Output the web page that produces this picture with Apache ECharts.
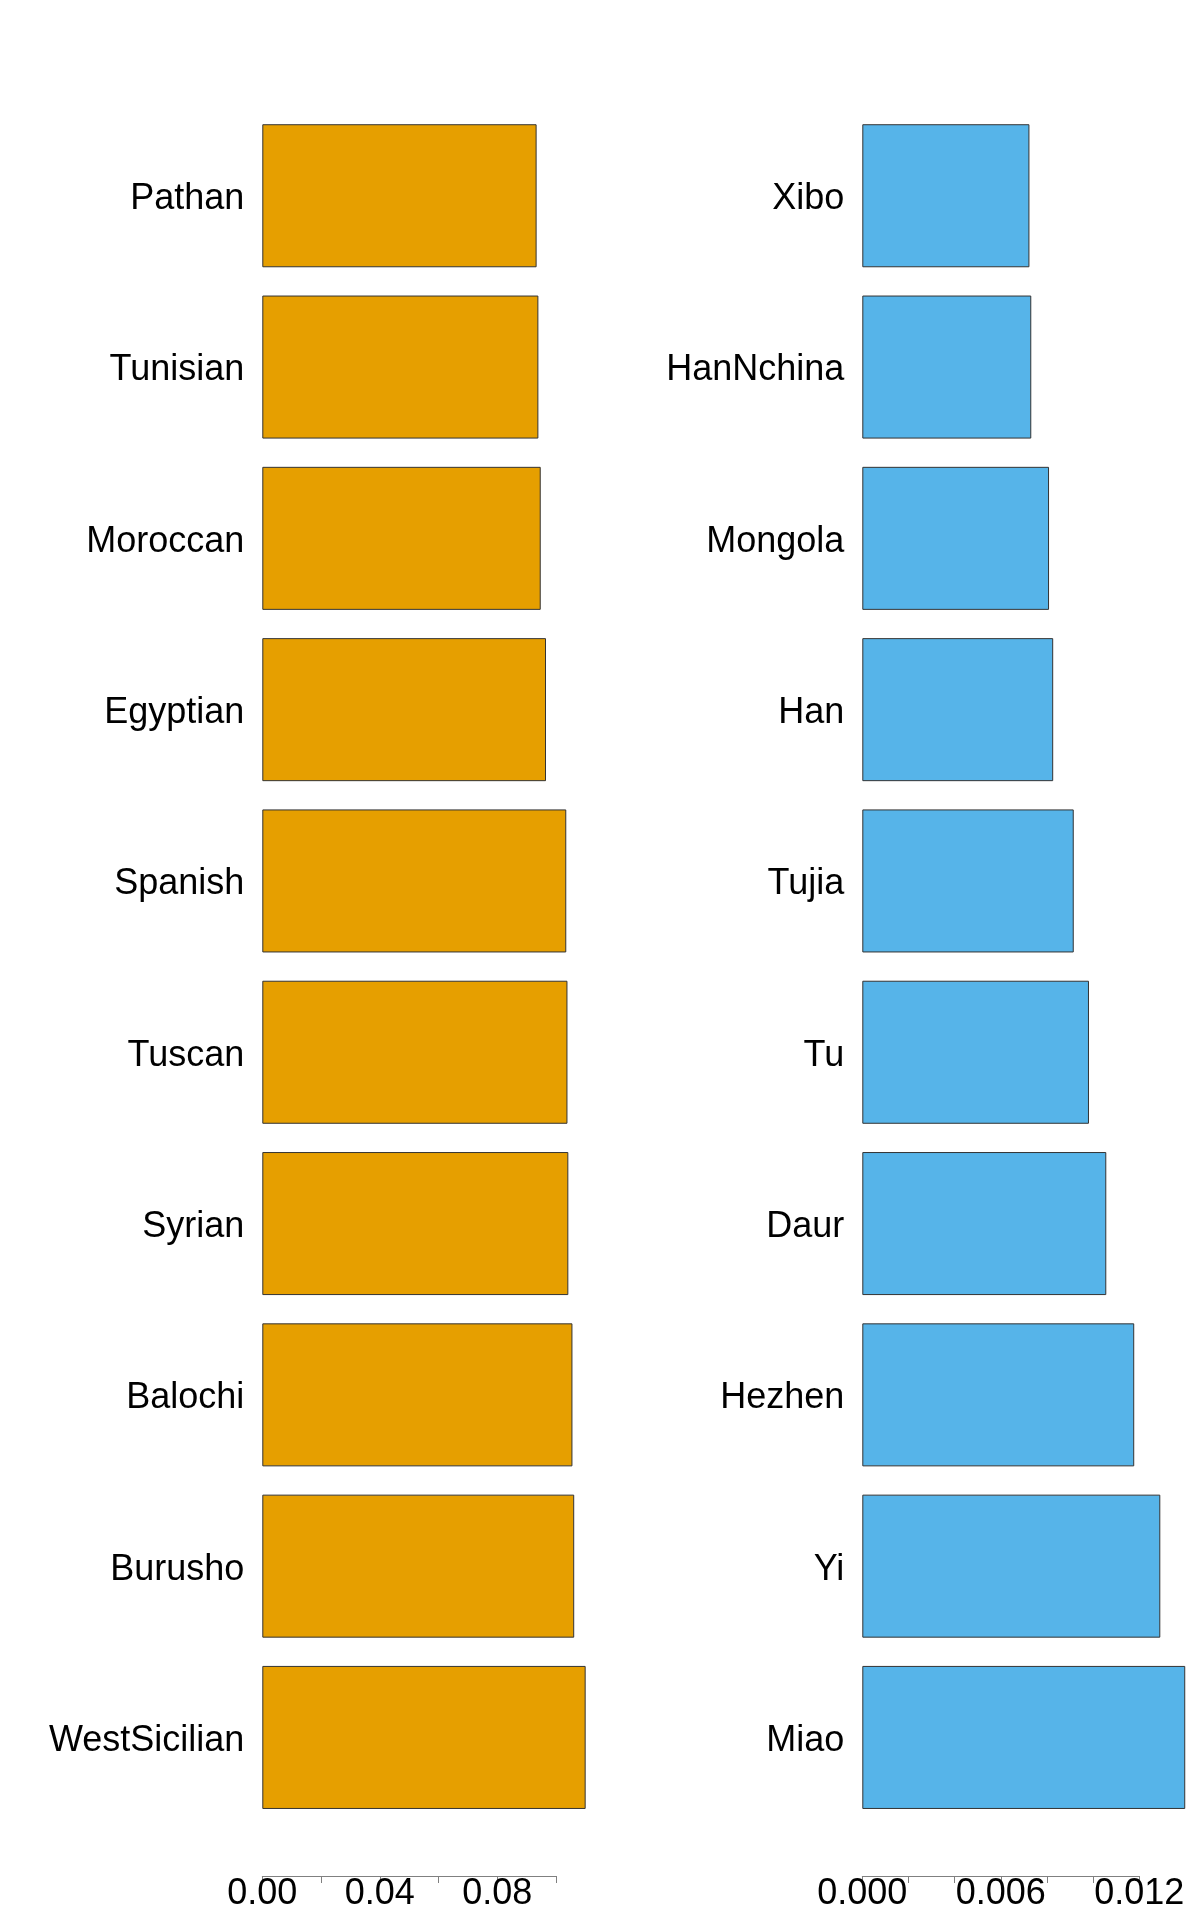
<!DOCTYPE html>
<html>
<head>
<meta charset="utf-8">
<script src="https://cdn.jsdelivr.net/npm/echarts@6/dist/echarts.min.js"></script>
<style>
html,body{margin:0;padding:0;background:#fff;}
#chart{width:1200px;height:1920px;}
</style>
</head>
<body>
<div id="chart"></div>
<script>
// Data (top to bottom)
var leftCats = ['Pathan','Tunisian','Moroccan','Egyptian','Spanish','Tuscan','Syrian','Balochi','Burusho','WestSicilian'];
var leftVals = [0.0934,0.0940,0.0948,0.0966,0.1035,0.1039,0.1042,0.1056,0.1062,0.1101];
var rightCats = ['Xibo','HanNchina','Mongola','Han','Tujia','Tu','Daur','Hezhen','Yi','Miao'];
var rightVals = [0.00724,0.00732,0.00809,0.00827,0.00916,0.00982,0.01057,0.01178,0.01291,0.01399];
var leftTicks = ['0.00','0.04','0.08'];
var rightTicks = ['0.000','0.006','0.012'];

(function(){
var FONT = '"Liberation Sans", Arial, Helvetica, sans-serif';
var chart = echarts.init(document.getElementById('chart'), null, {renderer:'canvas'});

var leftX0 = 262.3, leftAxisW = 293.7, leftAxisMax = 0.10, leftBarMax = 0.12;
var rightX0 = 862.3, rightAxisW = 277, rightAxisMax = 0.012, rightBarMax = 0.0145;
var gTop = 110.1, gH = 1713;
var axisY = 1876;

function catAxis(gi, cats){
  return {
    type:'category', gridIndex:gi, data:cats, inverse:true,
    axisLine:{show:false}, axisTick:{show:false}, splitLine:{show:false},
    axisLabel:{color:'#000', fontSize:36, fontFamily:FONT, margin:18, verticalAlign:'top', lineHeight:7}
  };
}
function tickAxis(gi, max, interval, ticks, dec){
  return {
    type:'value', gridIndex:gi, min:0, max:max, interval:interval, position:'bottom',
    axisLine:{show:true, lineStyle:{color:'#808080', width:1}},
    axisTick:{show:true, length:7, lineStyle:{color:'#808080', width:1}},
    splitLine:{show:false},
    axisLabel:{color:'#000', fontSize:36, fontFamily:FONT, margin:0, showMinLabel:true, showMaxLabel:true,
      formatter:function(v){ var s = v.toFixed(dec); return ticks.indexOf(s) >= 0 ? s : ''; }}
  };
}

var option = {
  animation:false,
  backgroundColor:'#fff',
  grid:[
    {left:leftX0, top:gTop, width:leftBarMax/leftAxisMax*leftAxisW, height:gH},
    {left:rightX0, top:gTop, width:rightBarMax/rightAxisMax*rightAxisW, height:gH},
    {left:leftX0, top:axisY-1, width:leftAxisW, height:1},
    {left:rightX0, top:axisY-1, width:rightAxisW, height:1}
  ],
  xAxis:[
    {type:'value', gridIndex:0, min:0, max:leftBarMax, show:false},
    {type:'value', gridIndex:1, min:0, max:rightBarMax, show:false},
    tickAxis(2, leftAxisMax, 0.02, leftTicks, 2),
    tickAxis(3, rightAxisMax, 0.002, rightTicks, 3)
  ],
  yAxis:[
    catAxis(0, leftCats),
    catAxis(1, rightCats),
    {type:'value', gridIndex:2, show:false},
    {type:'value', gridIndex:3, show:false}
  ],
  series:[
    {type:'bar', xAxisIndex:0, yAxisIndex:0, data:leftVals, barCategoryGap:'16.5%',
     itemStyle:{color:'#E69F00', borderColor:'#333', borderWidth:1}},
    {type:'bar', xAxisIndex:1, yAxisIndex:1, data:rightVals, barCategoryGap:'16.5%',
     itemStyle:{color:'#56B4E9', borderColor:'#333', borderWidth:1}}
  ]
};
chart.setOption(option);
})();
</script>
</body>
</html>
